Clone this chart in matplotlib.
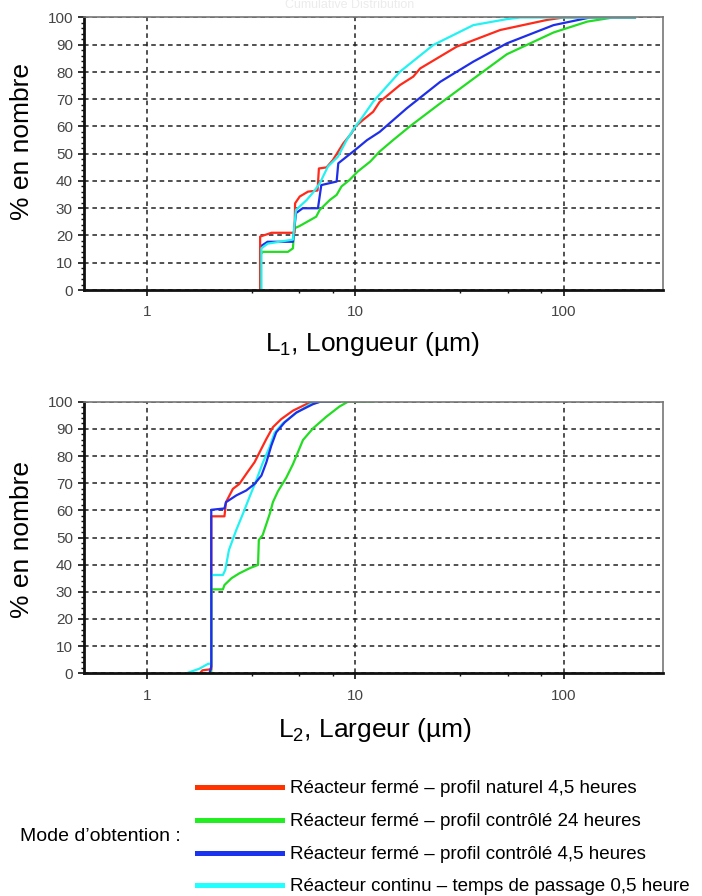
import numpy as np
import matplotlib
matplotlib.use('Agg')
import matplotlib.pyplot as plt
from matplotlib.ticker import FixedLocator, MultipleLocator, NullFormatter
from matplotlib.lines import Line2D

plt.rcParams['font.family'] = ['Liberation Sans', 'DejaVu Sans']
plt.rcParams['mathtext.fontset'] = 'custom'
plt.rcParams['mathtext.rm'] = 'Liberation Sans'
plt.rcParams['mathtext.it'] = 'Liberation Sans:italic'

# L1, longueur (um) -> cumulative % en nombre
red_L1_x = [3.5, 3.5, 3.97, 5.12, 5.15, 5.42, 5.94, 6.6, 6.7, 7.29, 7.82, 8.77, 9.6, 10.0, 10.9, 12.2, 13.1, 16.4, 19.0, 20.5, 30.7, 49.6, 83.2, 100, 220]
red_L1_y = [0, 19.6, 21, 21, 31.8, 34.3, 36.1, 36.5, 44.6, 45, 47.7, 53.8, 57.5, 59.9, 62.4, 65.4, 69.0, 75.2, 78.3, 81.3, 89.3, 95.4, 99.1, 100, 100]

green_L1_x = [3.5, 3.5, 3.6, 4.76, 5.03, 5.1, 5.42, 6.5, 6.76, 7.55, 8.15, 8.6, 9.4, 10.3, 11.8, 13.1, 15.2, 18.2, 25.5, 36.9, 53.4, 89.5, 130, 173, 220]
green_L1_y = [0, 12.8, 14, 14, 15.3, 22.6, 23.5, 26.9, 29.4, 33, 34.9, 38, 40.4, 43.5, 47.1, 50.8, 55, 59.9, 68.4, 77.5, 86.5, 94.5, 98.5, 100, 100]

blue_L1_x = [3.5, 3.5, 3.8, 5.03, 5.2, 5.6, 6.63, 6.88, 8.15, 8.3, 10.0, 11.4, 13.1, 17.7, 25.6, 36.9, 53.4, 89.5, 134, 220]
blue_L1_y = [0, 15.9, 17.7, 17.7, 28.2, 30, 30, 38.5, 39.8, 46.5, 51.4, 55, 58, 66.7, 76.4, 83.8, 90.5, 97.2, 100, 100]

cyan_L1_x = [3.55, 3.55, 3.8, 5.03, 5.2, 5.85, 6.3, 6.76, 7.4, 8.26, 9.1, 10.0, 10.6, 12.2, 16.4, 23.7, 36.9, 53.4, 62, 220]
cyan_L1_y = [0, 15.3, 17, 18.5, 29.4, 33, 35.9, 39.1, 45.3, 48.9, 55, 59.9, 62.4, 69.1, 80.1, 89.9, 97.2, 99.4, 100, 100]

# L2, largeur (um) -> cumulative % en nombre
red_L2_x = [1.8, 1.85, 2.04, 2.04, 2.36, 2.4, 2.59, 2.78, 3.04, 3.29, 3.48, 3.75, 4.03, 4.42, 5.03, 5.83, 6.3, 8.4]
red_L2_y = [0, 1.1, 1.5, 57.8, 57.8, 63, 67.9, 69.7, 74, 77.7, 81.4, 86.3, 90.6, 93.6, 96.7, 99.1, 100, 100]

green_L2_x = [2.04, 2.04, 2.32, 2.36, 2.55, 2.78, 3.12, 3.42, 3.45, 3.6, 3.9, 4.03, 4.26, 4.67, 5.03, 5.62, 6.28, 7.28, 8.4, 9.24, 12.2]
green_L2_y = [0, 30.9, 30.9, 32.5, 35, 36.8, 38.7, 39.9, 49.1, 50.9, 58.9, 63, 67, 72, 77, 85.9, 90.2, 94.5, 98.2, 100, 100]

blue_L2_x = [2.0, 2.04, 2.04, 2.36, 2.4, 2.69, 3.0, 3.29, 3.55, 3.75, 3.96, 4.18, 4.59, 5.22, 6.28, 6.8, 8.4]
blue_L2_y = [0, 2.5, 60.2, 60.7, 63, 65.5, 67.3, 69.7, 72.8, 77.7, 83.8, 88.7, 92.4, 96, 99.1, 100, 100]

cyan_L2_x = [1.55, 1.79, 1.97, 2.04, 2.04, 2.32, 2.38, 2.48, 2.69, 2.9, 3.12, 3.36, 3.6, 3.9, 4.1, 4.5, 5.22, 6.06, 6.8, 8.4]
cyan_L2_y = [0, 1.7, 3.5, 3.5, 36.2, 36.2, 38, 45.4, 52.8, 58.9, 65.1, 71.2, 77.4, 83.6, 88.5, 92.1, 95.9, 99, 100, 100]

line_colors = ['#ff2a1a', '#22dd22', '#1f2ee8', '#22f2f2']
legend_colors = ['#ff3300', '#22ee22', '#1a33ee', '#22ffff']
legend_labels = [
    'Réacteur fermé – profil naturel 4,5 heures',
    'Réacteur fermé – profil contrôlé 24 heures',
    'Réacteur fermé – profil contrôlé 4,5 heures',
    'Réacteur continu – temps de passage 0,5 heure',
]
x_ticks = [1, 10, 100]
x_ticklabels = ['1', '10', '100']
x_minor = [3.2, 5.4, 7.8, 32, 54, 78]
y_ticks = list(range(0, 101, 10))

W, H = 702, 896
fig = plt.figure(figsize=(W / 100, H / 100), dpi=100)


def px_box(left, top, right, bottom):
    return [left / W, 1 - bottom / H, (right - left) / W, (bottom - top) / H]


def style_axes(ax):
    ax.set_xscale('log')
    ax.set_xlim(0.5, 300)
    ax.set_ylim(0, 100)
    ax.xaxis.set_major_locator(FixedLocator(x_ticks))
    ax.set_xticklabels(x_ticklabels)
    ax.xaxis.set_minor_locator(FixedLocator(x_minor))
    ax.xaxis.set_minor_formatter(NullFormatter())
    ax.yaxis.set_major_locator(FixedLocator(y_ticks))
    ax.yaxis.set_minor_locator(MultipleLocator(2))
    ax.tick_params(axis='both', which='major', direction='out', length=4, width=1.2,
                   labelsize=11, labelcolor='#444444', color='#111111')
    ax.tick_params(axis='x', which='major', pad=7)
    ax.tick_params(axis='y', which='major', pad=4)
    ax.tick_params(axis='both', which='minor', direction='out', length=2.5, width=1, color='#111111')
    for s in ['left', 'bottom']:
        ax.spines[s].set_linewidth(2)
        ax.spines[s].set_color('#111111')
    for s in ['top', 'right']:
        ax.spines[s].set_linewidth(1.2)
        ax.spines[s].set_color('#777777')
    ax.grid(True, which='major', color='#222222', linestyle=(0, (3, 2.5)), linewidth=1.1)
    ax.set_axisbelow(True)


ax1 = fig.add_axes(px_box(84, 17.5, 663, 290))
style_axes(ax1)
ax1.plot(green_L1_x, green_L1_y, color=line_colors[1], lw=1.6)
ax1.plot(blue_L1_x, blue_L1_y, color=line_colors[2], lw=1.6)
ax1.plot(red_L1_x, red_L1_y, color=line_colors[0], lw=1.6)
ax1.plot(cyan_L1_x, cyan_L1_y, color=line_colors[3], lw=1.6)

ax2 = fig.add_axes(px_box(84, 401.7, 663, 673.3))
style_axes(ax2)
ax2.plot(green_L2_x, green_L2_y, color=line_colors[1], lw=1.6)
ax2.plot(red_L2_x, red_L2_y, color=line_colors[0], lw=1.6)
ax2.plot(cyan_L2_x, cyan_L2_y, color=line_colors[3], lw=1.6)
ax2.plot(blue_L2_x, blue_L2_y, color=line_colors[2], lw=1.6)

# faint title left over from the source software
fig.text(350 / W, 1 - 5 / H, 'Cumulative Distribution', ha='center', va='center',
         fontsize=9, color='#ececec')

fig.text(22 / W, 1 - 142 / H, '% en nombre', rotation=90, ha='center', va='center', fontsize=19)
fig.text(22 / W, 1 - 540 / H, '% en nombre', rotation=90, ha='center', va='center', fontsize=19)
fig.text(372 / W, 1 - 351 / H, 'L$_1$, Longueur (µm)', ha='center', va='baseline', fontsize=19)
fig.text(375 / W, 1 - 737 / H, 'L$_2$, Largeur (µm)', ha='center', va='baseline', fontsize=19)

# legend
fig.text(20 / W, 1 - 836 / H, 'Mode d’obtention :', ha='left', va='center', fontsize=14)
row_y = [787, 820, 853, 885]
for yy, col, lab in zip(row_y, legend_colors, legend_labels):
    fig.add_artist(Line2D([197 / W, 282 / W], [1 - yy / H, 1 - yy / H], color=col, lw=3.6,
                          transform=fig.transFigure))
    fig.text(290 / W, 1 - (yy + 1) / H, lab, ha='left', va='center', fontsize=13.5)

fig.savefig('out.png', dpi=100)
